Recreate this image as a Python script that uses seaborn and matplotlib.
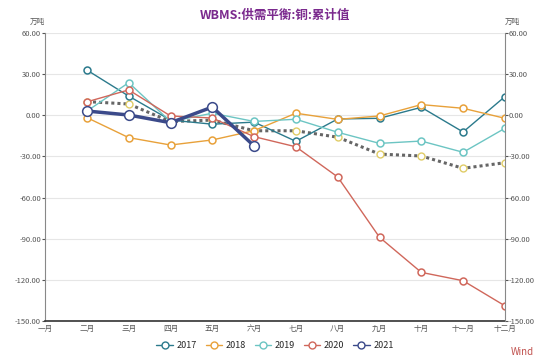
import numpy as np
import pandas as pd
import matplotlib
matplotlib.use('Agg')
import matplotlib.pyplot as plt
from matplotlib.lines import Line2D
import seaborn as sns

sns.set_style('white')
plt.rcParams['font.family'] = ['Noto Sans CJK SC', 'DejaVu Sans']
plt.rcParams['axes.unicode_minus'] = False

# 月份
months = ['一月', '二月', '三月', '四月', '五月', '六月',
          '七月', '八月', '九月', '十月', '十一月', '十二月']
nan = np.nan

# 各年度累计值 (万吨)
y2017 = [nan, 33.0, 14.0, -3.5, -6.5, -5.0, -19.0, -2.7, -2.2, 5.8, -12.2, 13.6]
y2018 = [nan, -1.7, -16.3, -21.7, -18.0, -11.2, 1.5, -3.0, -0.5, 7.8, 5.1, -2.2]
y2019 = [nan, 3.0, 23.8, -4.6, 1.5, -4.5, -2.9, -12.4, -20.5, -18.8, -27.0, -9.5]
y2020 = [nan, 9.8, 18.5, -0.5, -2.0, -15.6, -23.0, -45.0, -89.0, -114.6, -120.7, -139.0]
y2021 = [nan, 3.1, 0.2, -5.4, 6.0, -22.4, nan, nan, nan, nan, nan, nan]
# 虚线(无图例)
avg = [nan, 10.0, 8.2, -4.6, -3.5, -11.3, -11.3, -16.0, -28.3, -29.7, -38.7, -34.6]

series = [('2017', y2017, '#2b7a8c', 1.0, 5),
          ('2018', y2018, '#e8a13a', 1.0, 5),
          ('2019', y2019, '#6cc5c3', 1.0, 5),
          ('2020', y2020, '#d0675b', 1.0, 5),
          ('2021', y2021, '#3b4a8a', 2.5, 7)]

fig = plt.figure(figsize=(5.5, 3.63), dpi=100)
ax = fig.add_axes([0.082, 0.116, 0.836, 0.793])
x = np.arange(len(months))

df_avg = pd.DataFrame({'x': x, 'v': avg})
sns.lineplot(data=df_avg, x='x', y='v', ax=ax, color='#666666', lw=2.2,
             linestyle=(0, (1, 1.0)), marker='o', markersize=5,
             markerfacecolor='white', markeredgecolor='#e0cc66',
             markeredgewidth=1.0, zorder=2)

handles = []
for name, vals, col, lw, ms in series:
    d = pd.DataFrame({'x': x, 'v': vals})
    sns.lineplot(data=d, x='x', y='v', ax=ax, color=col, lw=lw, marker='o',
                 markersize=ms, markerfacecolor='white', markeredgecolor=col,
                 markeredgewidth=1.1, zorder=4 if name == '2021' else 3)
    handles.append(Line2D([], [], color=col, lw=1.0, marker='o', markersize=5,
                          markerfacecolor='white', markeredgecolor=col, label=name))

ax.set_xlim(0, 11)
ax.set_ylim(-150, 60)
yt = np.arange(-150, 61, 30)
ax.set_yticks(yt)
ax.set_yticklabels(['%.2f' % v for v in yt])
ax.set_xticks(x)
ax.set_xticklabels(months)
ax.set_xlabel('')
ax.set_ylabel('')
ax.tick_params(axis='both', labelsize=5.5, colors='#555555', length=2, pad=1)
ax.grid(axis='y', color='#e6e6e6', lw=0.8)
ax.set_axisbelow(True)

for s in ['top', 'right']:
    ax.spines[s].set_visible(False)
ax.spines['left'].set_color('#888888')
ax.spines['bottom'].set_color('#333333')
ax.spines['bottom'].set_linewidth(1.2)

ax2 = ax.twinx()
ax2.set_ylim(-150, 60)
ax2.set_yticks(yt)
ax2.set_yticklabels(['%.2f' % v for v in yt])
ax2.tick_params(axis='y', labelsize=5.5, colors='#555555', length=2, pad=1)
for s in ['top', 'left', 'bottom']:
    ax2.spines[s].set_visible(False)
ax2.spines['right'].set_color('#888888')

fig.text(0.082, 0.935, '万吨', fontsize=5.5, color='#555555', ha='right')
fig.text(0.918, 0.935, '万吨', fontsize=5.5, color='#555555', ha='left')

fig.text(0.5, 0.958, 'WBMS:供需平衡:铜:累计值', fontsize=9, fontweight='bold',
         color='#7b2a8e', ha='center', va='center')

fig.legend(handles=handles, loc='center', bbox_to_anchor=(0.5, 0.048), ncol=5,
           frameon=False, fontsize=6.5, handlelength=1.8, columnspacing=1.0,
           handletextpad=0.4)

fig.text(0.97, 0.03, 'Wind', fontsize=7, color='#c0504d', ha='right', va='center')

plt.savefig('out.png', dpi=100)
